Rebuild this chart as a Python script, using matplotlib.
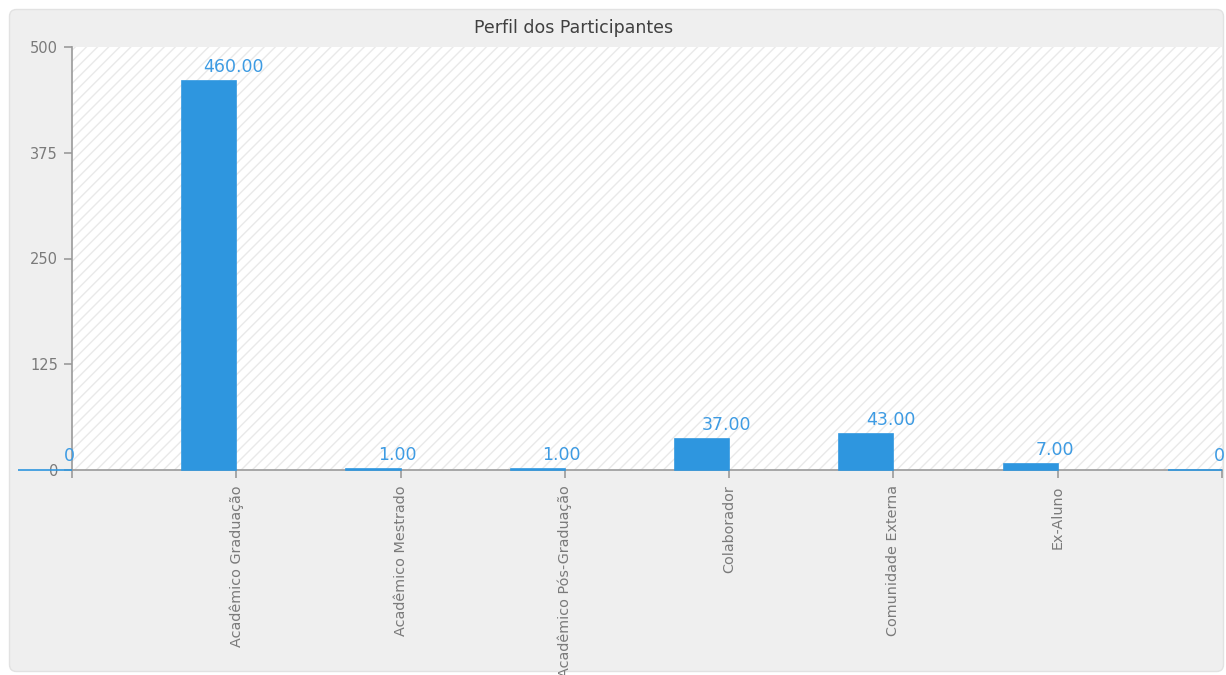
import matplotlib
matplotlib.use("Agg")
import matplotlib.pyplot as plt
from matplotlib.patches import Rectangle, FancyBboxPatch
from matplotlib.transforms import IdentityTransform

categories = ['', 'Acadêmico Graduação', 'Acadêmico Mestrado', 'Acadêmico Pós-Graduação',
              'Colaborador', 'Comunidade Externa', 'Ex-Aluno', '']
values = [0, 460, 1, 1, 37, 43, 7, 0]
yticks = [0, 125, 250, 375, 500]
title = 'Perfil dos Participantes'

W, H = 1226, 675
fig = plt.figure(figsize=(W / 100, H / 100), dpi=100)
fig.patch.set_facecolor('white')

panel = FancyBboxPatch((9.5, 3.5), 1214, 662, boxstyle='round,pad=0,rounding_size=7',
                       transform=IdentityTransform(), facecolor='#efefef',
                       edgecolor='#e2e2e2', linewidth=1.0, zorder=0)
fig.add_artist(panel)

ax = fig.add_axes([72 / W, (H - 470) / H, (1222 - 72) / W, (470 - 47) / H])
ax.set_facecolor('white')
bg = Rectangle((0, 0), 1, 1, transform=ax.transAxes, facecolor='white',
               edgecolor='#e9e9e9', hatch='///', linewidth=0, zorder=0)
ax.add_patch(bg)

bar_color = '#2e96df'
label_color = '#3d9be3'
x = list(range(len(values)))
bars = ax.bar(x, values, width=-0.33, align='edge', color=bar_color,
              edgecolor=bar_color, linewidth=1.2, zorder=3)
for b in bars:
    b.set_clip_on(False)

for xi, v in zip(x, values):
    txt = '0' if v == 0 else f'{v:.2f}'
    ax.annotate(txt, (xi, v), xytext=(-3, 5), textcoords='offset pixels',
                ha='center', va='bottom', color=label_color, fontsize=12.5,
                annotation_clip=False, clip_on=False, zorder=4)

ax.set_xlim(0, 7)
ax.set_ylim(0, 500)
ax.set_yticks(yticks)
ax.set_yticklabels([str(t) for t in yticks])
ax.set_xticks(x)
ax.set_xticklabels(categories, rotation=90, ha='center', va='top')

for s in ['top', 'right']:
    ax.spines[s].set_visible(False)
for s in ['left', 'bottom']:
    ax.spines[s].set_color('#9a9a9a')
    ax.spines[s].set_linewidth(1.2)
    ax.spines[s].set_zorder(2)

ax.tick_params(axis='both', colors='#9a9a9a', labelcolor='#7a7a7a', length=6,
               width=1.2)
ax.tick_params(axis='y', pad=4, labelsize=10.5)
ax.tick_params(axis='x', pad=5, labelsize=10.4)

fig.text(574 / W, (H - 28) / H, title, ha='center', va='center', fontsize=12.5,
         color='#404040')

fig.savefig('out.png', dpi=100)
